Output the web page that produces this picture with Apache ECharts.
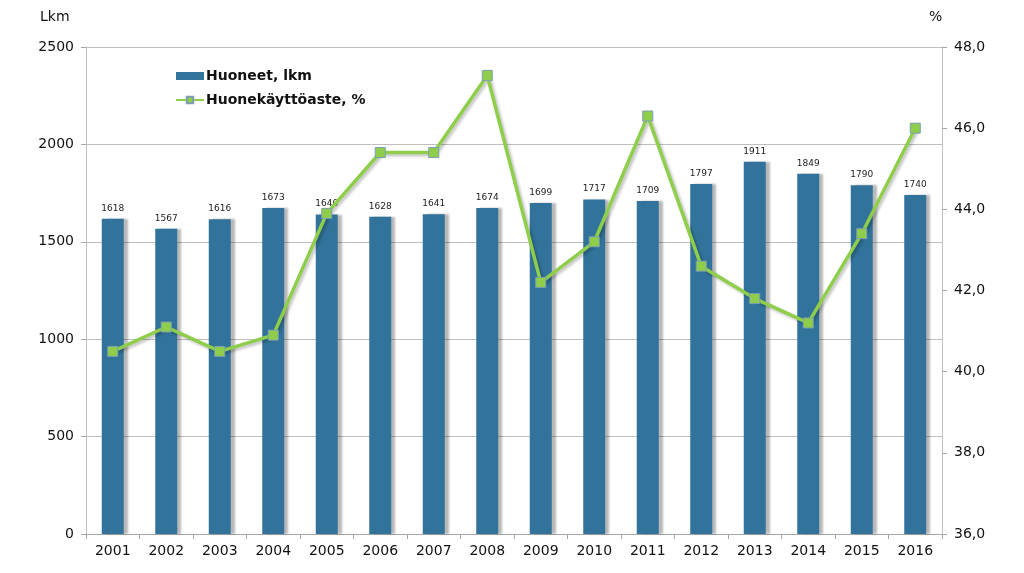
<!DOCTYPE html>
<html><head><meta charset="utf-8">
<script src="https://cdn.jsdelivr.net/npm/echarts@6/dist/echarts.min.js"></script>
<style>html,body{margin:0;padding:0;background:#fff}#c{width:1024px;height:573px}</style>
</head><body><div id="c"></div>
<script>
const years = ['2001','2002','2003','2004','2005','2006','2007','2008','2009','2010','2011','2012','2013','2014','2015','2016'];
const rooms = [1618,1567,1616,1673,1640,1628,1641,1674,1699,1717,1709,1797,1911,1849,1790,1740];
const occupancy = [40.5,41.1,40.5,40.9,43.9,45.4,45.4,47.3,42.2,43.2,46.3,42.6,41.8,41.2,43.4,46.0];
const leftTitle = 'Lkm';
const rightTitle = '%';
const seriesNames = ['Huoneet, lkm','Huonekäyttöaste, %'];

const chart = echarts.init(document.getElementById('c'));
const font = 'Verdana, "DejaVu Sans", sans-serif';
chart.setOption({
  animation:false,
  textStyle:{fontFamily:font},
  grid:{left:86,right:82,top:47,bottom:39},
  graphic:[
    {type:'text',left:40,top:10,style:{text:leftTitle,fontSize:14,fill:'#111',fontFamily:font}},
    {type:'text',left:929,top:10,style:{text:rightTitle,fontSize:14,fill:'#111',fontFamily:font}}
  ],
  legend:{
    orient:'vertical', left:170, top:64, itemGap:10,
    itemWidth:28, itemHeight:8,
    textStyle:{fontFamily:font,fontWeight:'bold',fontSize:14,color:'#111',padding:[0,0,0,-3]},
    data:[{name:seriesNames[0],icon:'rect'},{name:seriesNames[1]}]
  },
  xAxis:{
    type:'category', data:years,
    axisLine:{lineStyle:{color:'#a6a6a6'}},
    axisTick:{show:true,length:5,lineStyle:{color:'#a6a6a6'}},
    axisLabel:{fontSize:14,color:'#111',margin:10,fontFamily:font}
  },
  yAxis:[{
    type:'value', min:0, max:2500, interval:500,
    axisLine:{show:true,lineStyle:{color:'#bfbfbf'}},
    axisTick:{show:true,length:5,lineStyle:{color:'#a6a6a6'}},
    axisLabel:{fontSize:14,color:'#111',margin:12,fontFamily:font,formatter:v=>String(v)},
    splitLine:{lineStyle:{color:'#bfbfbf'}}
  },{
    type:'value', min:36, max:48, interval:2,
    axisLine:{show:true,lineStyle:{color:'#bfbfbf'}},
    axisTick:{show:true,length:5,lineStyle:{color:'#a6a6a6'}},
    axisLabel:{fontSize:14,color:'#111',margin:12,fontFamily:font,formatter:v=>v.toFixed(1).replace('.',',')},
    splitLine:{show:false}
  }],
  series:[{
    name:seriesNames[0], type:'bar', data:rooms, barWidth:22, yAxisIndex:0,
    itemStyle:{color:'#31739a',shadowColor:'rgba(0,0,0,0.28)',shadowOffsetX:4,shadowOffsetY:0,shadowBlur:2},
    label:{show:true,position:'top',distance:6,fontSize:9,color:'#222',fontFamily:font}
  },{
    name:seriesNames[1], type:'line', data:occupancy, yAxisIndex:1,
    symbol:'rect', symbolSize:10,
    lineStyle:{color:'#8fce4a',width:3.5,shadowColor:'rgba(0,0,0,0.25)',shadowOffsetX:2,shadowOffsetY:2,shadowBlur:3},
    itemStyle:{color:'#8fce4a',borderColor:'#7d9eb5',borderWidth:1}
  }]
});
</script></body></html>
